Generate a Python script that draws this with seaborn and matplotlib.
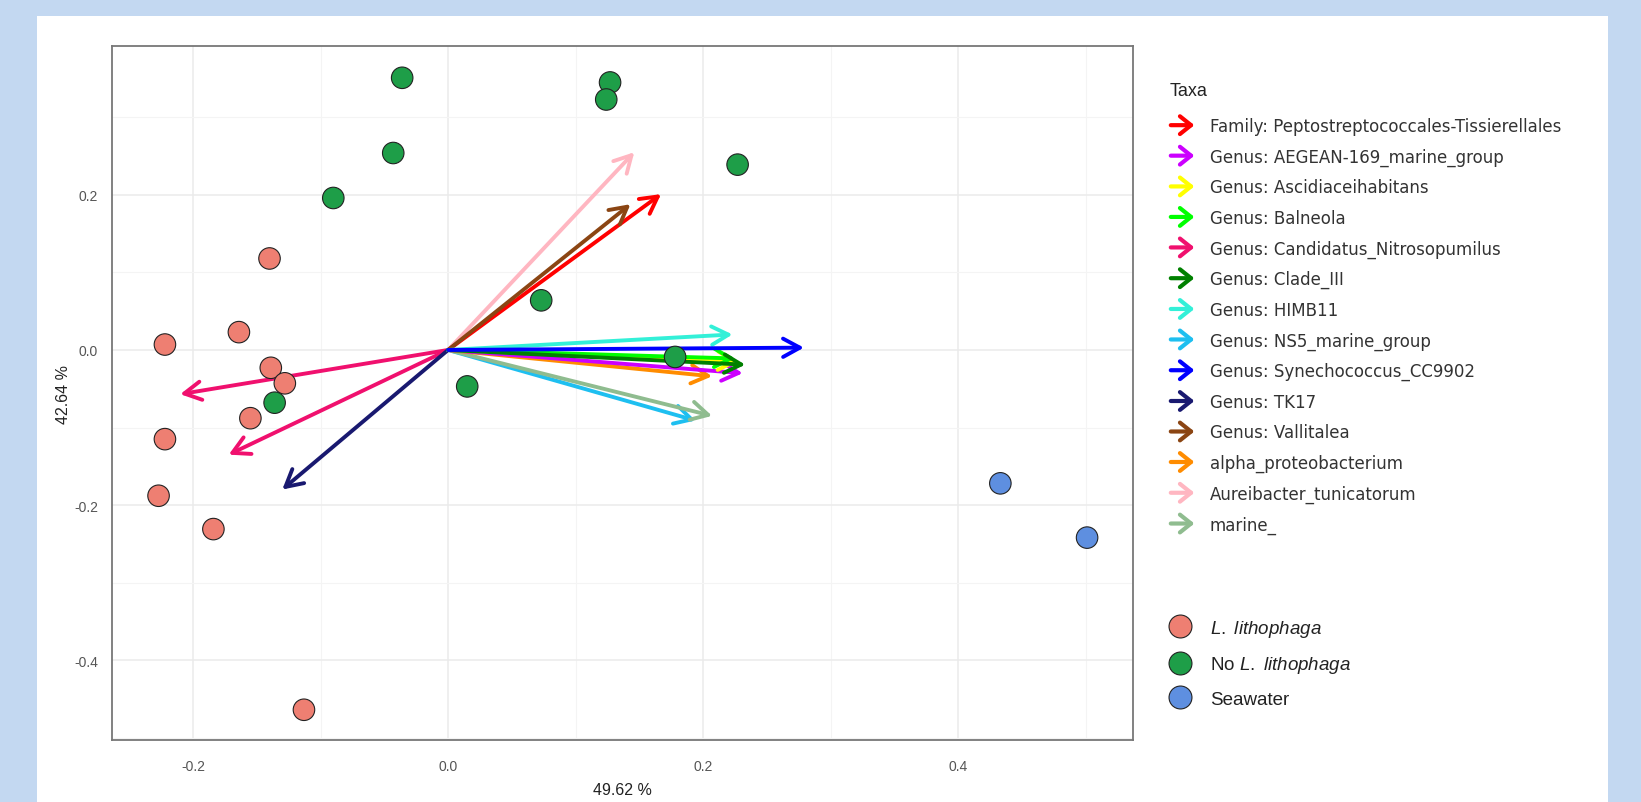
import matplotlib
matplotlib.use("Agg")
import matplotlib.pyplot as plt
import matplotlib.patches as mpatches
from matplotlib.legend_handler import HandlerPatch
import numpy as np
import pandas as pd
import seaborn as sns

# sample scores (PC1, PC2)
group_names = ["L. lithophaga", "No L. lithophaga", "Seawater"]
lith_x = [-0.140, -0.222, -0.164, -0.139, -0.128, -0.155, -0.222, -0.227, -0.184, -0.113]
lith_y = [0.118, 0.007, 0.023, -0.023, -0.043, -0.088, -0.115, -0.188, -0.231, -0.464]
nolith_x = [-0.036, 0.127, 0.124, -0.043, -0.090, 0.227, 0.073, 0.015, 0.178, -0.136]
nolith_y = [0.351, 0.345, 0.323, 0.254, 0.196, 0.239, 0.064, -0.047, -0.009, -0.068]
sea_x = [0.433, 0.501]
sea_y = [-0.172, -0.242]
group_colors = ["#EE7F72", "#1E9E48", "#5E8FE0"]

# taxa loadings (arrow tips)
taxa_names = [
    "Family: Peptostreptococcales-Tissierellales",
    "Genus: AEGEAN-169_marine_group",
    "Genus: Ascidiaceihabitans",
    "Genus: Balneola",
    "Genus: Candidatus_Nitrosopumilus",
    "Genus: Clade_III",
    "Genus: HIMB11",
    "Genus: NS5_marine_group",
    "Genus: Synechococcus_CC9902",
    "Genus: TK17",
    "Genus: Vallitalea",
    "alpha_proteobacterium",
    "Aureibacter_tunicatorum",
    "marine_",
]
taxa_colors = ["#FF0000", "#CC00FF", "#FFFF00", "#00FF00", "#F0106E", "#008000",
               "#33F0D8", "#1EBFF0", "#0000FF", "#191970", "#8B4513", "#FF8C00",
               "#FFB6C1", "#8FBC8F"]
arrow_taxa = ["Aureibacter_tunicatorum", "Family: Peptostreptococcales-Tissierellales",
              "Genus: Vallitalea", "Genus: Candidatus_Nitrosopumilus",
              "Genus: Candidatus_Nitrosopumilus", "Genus: TK17", "Genus: NS5_marine_group",
              "marine_", "alpha_proteobacterium", "Genus: AEGEAN-169_marine_group",
              "Genus: Ascidiaceihabitans", "Genus: Balneola", "Genus: HIMB11",
              "Genus: Clade_III", "Genus: Synechococcus_CC9902"]
arrow_x = [0.146, 0.167, 0.143, -0.210, -0.172, -0.130, 0.194, 0.207, 0.207, 0.231,
           0.228, 0.225, 0.223, 0.233, 0.279]
arrow_y = [0.255, 0.201, 0.188, -0.057, -0.135, -0.180, -0.091, -0.085, -0.034, -0.030,
           -0.015, -0.011, 0.020, -0.019, 0.003]

samples = pd.DataFrame({
    "PC1": lith_x + nolith_x + sea_x,
    "PC2": lith_y + nolith_y + sea_y,
    "Group": [group_names[0]] * len(lith_x) + [group_names[1]] * len(nolith_x)
             + [group_names[2]] * len(sea_x),
})

sns.set_theme(style="whitegrid")
plt.rcParams["font.family"] = ["Liberation Sans", "DejaVu Sans"]
plt.rcParams["mathtext.fontset"] = "custom"
plt.rcParams["mathtext.it"] = "Liberation Sans:italic"
plt.rcParams["mathtext.rm"] = "Liberation Sans"

W, H = 1641, 803
fig = plt.figure(figsize=(W / 100, H / 100), dpi=100, facecolor="#C3D8F1")
fig.patches.append(mpatches.Rectangle((37 / W, 0), (1608 - 37) / W, 1 - 17 / H,
                                      transform=fig.transFigure, facecolor="white",
                                      edgecolor="none", zorder=-10))
ax = fig.add_axes([112 / W, 1 - 741 / H, (1133 - 112) / W, (741 - 47) / H])
ax.set_facecolor("white")

color_of = dict(zip(taxa_names, taxa_colors))
for tx, x, y in zip(arrow_taxa, arrow_x, arrow_y):
    ax.annotate("", xy=(x, y), xytext=(0, 0),
                arrowprops=dict(arrowstyle="->,head_length=0.55,head_width=0.3",
                                lw=2.8, color=color_of[tx], shrinkA=0, shrinkB=0,
                                mutation_scale=22), zorder=2)

sns.scatterplot(data=samples, x="PC1", y="PC2", hue="Group", hue_order=group_names,
                palette=group_colors, s=240, edgecolor="#222222", linewidth=0.8,
                ax=ax, legend=False, zorder=3)

ax.set_xlim(-0.2635, 0.537)
ax.set_ylim(-0.503, 0.392)
ax.set_xticks([-0.2, 0.0, 0.2, 0.4])
ax.set_xticklabels(["-0.2", "0.0", "0.2", "0.4"])
ax.set_yticks([-0.4, -0.2, 0.0, 0.2])
ax.set_yticklabels(["-0.4", "-0.2", "0.0", "0.2"])
ax.set_xticks([-0.1, 0.1, 0.3, 0.5], minor=True)
ax.set_yticks([-0.5, -0.3, -0.1, 0.1, 0.3], minor=True)
ax.grid(True, which="major", color="#EBEBEB", lw=1.1)
ax.grid(True, which="minor", color="#F4F4F4", lw=0.8)
ax.tick_params(axis="both", which="major", labelsize=10, labelcolor="#555555",
               length=4, color="#555555", width=0.8)
ax.tick_params(axis="x", which="major", pad=10)
ax.tick_params(axis="y", which="major", pad=6)
ax.tick_params(axis="both", which="minor", length=0)
for sp in ax.spines.values():
    sp.set_color("#777777")
    sp.set_linewidth(1.3)
ax.set_xlabel("49.62 %", fontsize=11.5, color="#222222", labelpad=6)
ax.set_ylabel("42.64 %", fontsize=11.5, color="#222222", labelpad=2)


class HandlerArrow(HandlerPatch):
    def create_artists(self, legend, orig_handle, xdescent, ydescent, width, height,
                       fontsize, trans):
        y = height / 2 - ydescent
        arr = mpatches.FancyArrowPatch((-xdescent, y), (width - xdescent, y),
                                       arrowstyle="->,head_length=0.5,head_width=0.4",
                                       mutation_scale=16, lw=3,
                                       color=orig_handle.get_facecolor())
        arr.set_transform(trans)
        return [arr]


fig.text(1170 / W, 1 - 92 / H, "Taxa", fontsize=13, color="#222222", va="center")
taxa_handles = [mpatches.Patch(color=c) for c in taxa_colors]
leg1 = fig.legend(taxa_handles, taxa_names, loc="upper left",
                  bbox_to_anchor=(1168 / W, 1 - 118 / H), frameon=False,
                  prop={"family": "DejaVu Sans", "size": 12},
                  handler_map={mpatches.Patch: HandlerArrow()},
                  handlelength=1.75, handletextpad=0.75, labelspacing=0.75,
                  borderpad=0, borderaxespad=0)
for t in leg1.get_texts():
    t.set_color("#333333")

group_labels = [r"$\it{L.\ lithophaga}$", r"No $\it{L.\ lithophaga}$", "Seawater"]
group_handles = [plt.Line2D([], [], marker="o", ls="", markersize=16.5,
                            markerfacecolor=c, markeredgecolor="#222222",
                            markeredgewidth=0.8) for c in group_colors]
leg2 = fig.legend(group_handles, group_labels, loc="upper left",
                  bbox_to_anchor=(1169 / W, 1 - 619 / H), frameon=False,
                  fontsize=13.5, handlelength=1.2, handletextpad=1.0,
                  labelspacing=0.82, borderpad=0, borderaxespad=0)
for t in leg2.get_texts():
    t.set_color("#222222")

fig.savefig("out.png", dpi=100, facecolor=fig.get_facecolor())
